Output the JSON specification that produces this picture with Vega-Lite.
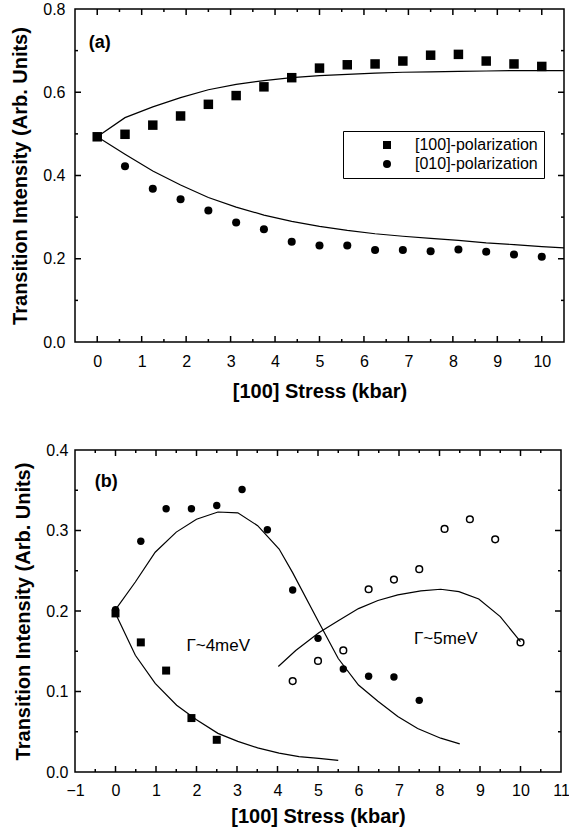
{
  "$schema": "https://vega.github.io/schema/vega-lite/v6.json",
  "padding": {"left": 10, "top": 0, "right": 0, "bottom": 0},
  "background": "white",
  "columns": 1,
  "align": "none",
  "spacing": 39,
  "resolve": {"scale": {"shape": "independent", "size": "independent"}, "legend": {"shape": "independent", "size": "independent"}},
  "datasets": {
    "a_fit_up": [
      {"x": 0, "y": 0.493}, {"x": 0.625, "y": 0.539}, {"x": 1.25, "y": 0.565}, {"x": 1.875, "y": 0.587},
      {"x": 2.5, "y": 0.606}, {"x": 3.125, "y": 0.619}, {"x": 3.75, "y": 0.628}, {"x": 4.375, "y": 0.635},
      {"x": 5, "y": 0.64}, {"x": 5.625, "y": 0.643}, {"x": 6.25, "y": 0.646}, {"x": 6.875, "y": 0.648},
      {"x": 7.5, "y": 0.649}, {"x": 8.125, "y": 0.65}, {"x": 8.75, "y": 0.651}, {"x": 9.375, "y": 0.652},
      {"x": 10, "y": 0.652}, {"x": 10.5, "y": 0.652}
    ],
    "a_fit_low": [
      {"x": 0, "y": 0.493}, {"x": 0.625, "y": 0.451}, {"x": 1.25, "y": 0.411}, {"x": 1.875, "y": 0.377},
      {"x": 2.5, "y": 0.347}, {"x": 3.125, "y": 0.324}, {"x": 3.75, "y": 0.305}, {"x": 4.375, "y": 0.29},
      {"x": 5, "y": 0.278}, {"x": 5.625, "y": 0.268}, {"x": 6.25, "y": 0.26}, {"x": 6.875, "y": 0.254},
      {"x": 7.5, "y": 0.249}, {"x": 8.125, "y": 0.244}, {"x": 8.75, "y": 0.238}, {"x": 9.375, "y": 0.234},
      {"x": 10, "y": 0.229}, {"x": 10.5, "y": 0.226}
    ],
    "a_points": [
      {"series": "[100]-polarization", "x": 0, "y": 0.493},
      {"series": "[100]-polarization", "x": 0.625, "y": 0.499},
      {"series": "[100]-polarization", "x": 1.25, "y": 0.521},
      {"series": "[100]-polarization", "x": 1.875, "y": 0.543},
      {"series": "[100]-polarization", "x": 2.5, "y": 0.571},
      {"series": "[100]-polarization", "x": 3.125, "y": 0.592},
      {"series": "[100]-polarization", "x": 3.75, "y": 0.613},
      {"series": "[100]-polarization", "x": 4.375, "y": 0.635},
      {"series": "[100]-polarization", "x": 5, "y": 0.658},
      {"series": "[100]-polarization", "x": 5.625, "y": 0.666},
      {"series": "[100]-polarization", "x": 6.25, "y": 0.668},
      {"series": "[100]-polarization", "x": 6.875, "y": 0.675},
      {"series": "[100]-polarization", "x": 7.5, "y": 0.689},
      {"series": "[100]-polarization", "x": 8.125, "y": 0.691},
      {"series": "[100]-polarization", "x": 8.75, "y": 0.675},
      {"series": "[100]-polarization", "x": 9.375, "y": 0.668},
      {"series": "[100]-polarization", "x": 10, "y": 0.662},
      {"series": "[010]-polarization", "x": 0, "y": 0.493},
      {"series": "[010]-polarization", "x": 0.625, "y": 0.422},
      {"series": "[010]-polarization", "x": 1.25, "y": 0.368},
      {"series": "[010]-polarization", "x": 1.875, "y": 0.343},
      {"series": "[010]-polarization", "x": 2.5, "y": 0.316},
      {"series": "[010]-polarization", "x": 3.125, "y": 0.287},
      {"series": "[010]-polarization", "x": 3.75, "y": 0.271},
      {"series": "[010]-polarization", "x": 4.375, "y": 0.241},
      {"series": "[010]-polarization", "x": 5, "y": 0.232},
      {"series": "[010]-polarization", "x": 5.625, "y": 0.232},
      {"series": "[010]-polarization", "x": 6.25, "y": 0.221},
      {"series": "[010]-polarization", "x": 6.875, "y": 0.221},
      {"series": "[010]-polarization", "x": 7.5, "y": 0.218},
      {"series": "[010]-polarization", "x": 8.125, "y": 0.222},
      {"series": "[010]-polarization", "x": 8.75, "y": 0.217},
      {"series": "[010]-polarization", "x": 9.375, "y": 0.21},
      {"series": "[010]-polarization", "x": 10, "y": 0.205}
    ],
    "a_label": [{"x": -0.19, "y": 0.718, "text": "(a)"}],
    "a_xticks": [
      {"x": 0, "kind": "major"}, {"x": 1, "kind": "major"}, {"x": 2, "kind": "major"}, {"x": 3, "kind": "major"},
      {"x": 4, "kind": "major"}, {"x": 5, "kind": "major"}, {"x": 6, "kind": "major"}, {"x": 7, "kind": "major"},
      {"x": 8, "kind": "major"}, {"x": 9, "kind": "major"}, {"x": 10, "kind": "major"},
      {"x": 0.5, "kind": "minor"}, {"x": 1.5, "kind": "minor"}, {"x": 2.5, "kind": "minor"}, {"x": 3.5, "kind": "minor"},
      {"x": 4.5, "kind": "minor"}, {"x": 5.5, "kind": "minor"}, {"x": 6.5, "kind": "minor"}, {"x": 7.5, "kind": "minor"},
      {"x": 8.5, "kind": "minor"}, {"x": 9.5, "kind": "minor"}
    ],
    "a_yticks": [
      {"y": 0.2, "kind": "major"}, {"y": 0.4, "kind": "major"}, {"y": 0.6, "kind": "major"},
      {"y": 0.1, "kind": "minor"}, {"y": 0.3, "kind": "minor"}, {"y": 0.5, "kind": "minor"}, {"y": 0.7, "kind": "minor"}
    ],
    "b_fits": [
      {"curve": "g4_rise", "x": 0, "y": 0.2017}, {"curve": "g4_rise", "x": 0.49, "y": 0.236},
      {"curve": "g4_rise", "x": 0.98, "y": 0.273}, {"curve": "g4_rise", "x": 1.5, "y": 0.298},
      {"curve": "g4_rise", "x": 2.0, "y": 0.314}, {"curve": "g4_rise", "x": 2.53, "y": 0.323},
      {"curve": "g4_rise", "x": 3.02, "y": 0.322}, {"curve": "g4_rise", "x": 3.51, "y": 0.306},
      {"curve": "g4_rise", "x": 4.04, "y": 0.277}, {"curve": "g4_rise", "x": 4.37, "y": 0.248},
      {"curve": "g4_rise", "x": 5.02, "y": 0.186}, {"curve": "g4_rise", "x": 5.5, "y": 0.141},
      {"curve": "g4_rise", "x": 6.0, "y": 0.108}, {"curve": "g4_rise", "x": 6.48, "y": 0.088},
      {"curve": "g4_rise", "x": 6.97, "y": 0.069}, {"curve": "g4_rise", "x": 7.46, "y": 0.054},
      {"curve": "g4_rise", "x": 8.03, "y": 0.042}, {"curve": "g4_rise", "x": 8.5, "y": 0.035},
      {"curve": "g4_fall", "x": 0, "y": 0.197}, {"curve": "g4_fall", "x": 0.49, "y": 0.145},
      {"curve": "g4_fall", "x": 0.98, "y": 0.11}, {"curve": "g4_fall", "x": 1.51, "y": 0.083},
      {"curve": "g4_fall", "x": 2.0, "y": 0.065}, {"curve": "g4_fall", "x": 2.53, "y": 0.048},
      {"curve": "g4_fall", "x": 3.02, "y": 0.038}, {"curve": "g4_fall", "x": 3.51, "y": 0.03},
      {"curve": "g4_fall", "x": 4.04, "y": 0.0235}, {"curve": "g4_fall", "x": 4.53, "y": 0.019},
      {"curve": "g4_fall", "x": 5.02, "y": 0.017}, {"curve": "g4_fall", "x": 5.5, "y": 0.0144},
      {"curve": "g5", "x": 4.02, "y": 0.131}, {"curve": "g5", "x": 4.45, "y": 0.151},
      {"curve": "g5", "x": 5.02, "y": 0.173}, {"curve": "g5", "x": 5.5, "y": 0.188},
      {"curve": "g5", "x": 6.0, "y": 0.203}, {"curve": "g5", "x": 6.48, "y": 0.213},
      {"curve": "g5", "x": 6.97, "y": 0.22}, {"curve": "g5", "x": 7.54, "y": 0.225},
      {"curve": "g5", "x": 8.03, "y": 0.227}, {"curve": "g5", "x": 8.48, "y": 0.224},
      {"curve": "g5", "x": 8.97, "y": 0.215}, {"curve": "g5", "x": 9.5, "y": 0.193},
      {"curve": "g5", "x": 10.0, "y": 0.162}
    ],
    "b_filled": [
      {"series": "circle", "x": 0, "y": 0.2017}, {"series": "circle", "x": 0.625, "y": 0.2866},
      {"series": "circle", "x": 1.25, "y": 0.327}, {"series": "circle", "x": 1.875, "y": 0.327},
      {"series": "circle", "x": 2.5, "y": 0.331}, {"series": "circle", "x": 3.125, "y": 0.351},
      {"series": "circle", "x": 3.75, "y": 0.301}, {"series": "circle", "x": 4.375, "y": 0.226},
      {"series": "circle", "x": 5, "y": 0.166}, {"series": "circle", "x": 5.625, "y": 0.128},
      {"series": "circle", "x": 6.25, "y": 0.119}, {"series": "circle", "x": 6.875, "y": 0.118},
      {"series": "circle", "x": 7.5, "y": 0.089},
      {"series": "square", "x": 0, "y": 0.197}, {"series": "square", "x": 0.625, "y": 0.161},
      {"series": "square", "x": 1.25, "y": 0.126}, {"series": "square", "x": 1.875, "y": 0.067},
      {"series": "square", "x": 2.5, "y": 0.04}
    ],
    "b_open": [
      {"x": 4.375, "y": 0.113}, {"x": 5, "y": 0.138}, {"x": 5.625, "y": 0.151},
      {"x": 6.25, "y": 0.227}, {"x": 6.875, "y": 0.239}, {"x": 7.5, "y": 0.252},
      {"x": 8.125, "y": 0.302}, {"x": 8.75, "y": 0.314}, {"x": 9.375, "y": 0.289},
      {"x": 10, "y": 0.161}
    ],
    "b_panel_label": [{"x": -0.51, "y": 0.36, "text": "(b)"}],
    "b_gamma": [
      {"x": 1.75, "y": 0.157, "text": "Γ~4meV"},
      {"x": 7.37, "y": 0.165, "text": "Γ~5meV"}
    ],
    "b_xticks": [
      {"x": 0, "kind": "major"}, {"x": 1, "kind": "major"}, {"x": 2, "kind": "major"}, {"x": 3, "kind": "major"},
      {"x": 4, "kind": "major"}, {"x": 5, "kind": "major"}, {"x": 6, "kind": "major"}, {"x": 7, "kind": "major"},
      {"x": 8, "kind": "major"}, {"x": 9, "kind": "major"}, {"x": 10, "kind": "major"},
      {"x": -0.5, "kind": "minor"}, {"x": 0.5, "kind": "minor"}, {"x": 1.5, "kind": "minor"}, {"x": 2.5, "kind": "minor"},
      {"x": 3.5, "kind": "minor"}, {"x": 4.5, "kind": "minor"}, {"x": 5.5, "kind": "minor"}, {"x": 6.5, "kind": "minor"},
      {"x": 7.5, "kind": "minor"}, {"x": 8.5, "kind": "minor"}, {"x": 9.5, "kind": "minor"}, {"x": 10.5, "kind": "minor"}
    ],
    "b_yticks": [
      {"y": 0.1, "kind": "major"}, {"y": 0.2, "kind": "major"}, {"y": 0.3, "kind": "major"},
      {"y": 0.05, "kind": "minor"}, {"y": 0.15, "kind": "minor"}, {"y": 0.25, "kind": "minor"}, {"y": 0.35, "kind": "minor"}
    ]
  },
  "concat": [
    {
      "width": 489,
      "height": 333,
      "resolve": {"scale": {"x": "shared", "y": "shared", "shape": "shared"}, "axis": {"x": "independent", "y": "independent"}},
      "layer": [
        {
          "data": {"name": "a_fit_up"},
          "mark": {"type": "line", "color": "black", "strokeWidth": 1.2, "clip": true},
          "encoding": {
            "x": {"field": "x", "type": "quantitative", "scale": {"domain": [-0.5, 10.5], "nice": false, "zero": false},
              "axis": {"orient": "bottom", "values": [0,1,2,3,4,5,6,7,8,9,10], "ticks": false, "labelPadding": 11, "labelFlush": false, "title": "[100] Stress (kbar)", "titlePadding": 12}},
            "y": {"field": "y", "type": "quantitative", "scale": {"domain": [0, 0.8], "nice": false, "zero": false},
              "axis": {"orient": "left", "values": [0, 0.2, 0.4, 0.6, 0.8], "format": ".1f", "ticks": false, "labelPadding": 10, "title": "Transition Intensity (Arb. Units)", "titlePadding": 12}}
          }
        },
        {
          "data": {"name": "a_fit_low"},
          "mark": {"type": "line", "color": "black", "strokeWidth": 1.2, "clip": true},
          "encoding": {
            "x": {"field": "x", "type": "quantitative", "axis": null},
            "y": {"field": "y", "type": "quantitative", "axis": null}
          }
        },
        {
          "data": {"name": "a_points"},
          "transform": [{"filter": "datum.series === '[100]-polarization'"}],
          "mark": {"type": "point", "filled": true, "color": "black", "opacity": 1, "size": 90},
          "encoding": {
            "x": {"field": "x", "type": "quantitative", "axis": null},
            "y": {"field": "y", "type": "quantitative", "axis": null},
            "shape": {"field": "series", "type": "nominal",
              "scale": {"domain": ["[100]-polarization", "[010]-polarization"], "range": ["square", "circle"]},
              "legend": {"title": " ", "titleOrient": "left", "titlePadding": 30, "orient": "none", "legendX": 268, "legendY": 122,
                "strokeColor": "black", "padding": 6, "symbolOffset": 0, "labelOffset": 20,
                "labelFontSize": 16, "labelColor": "black", "symbolSize": 64, "symbolFillColor": "black", "symbolStrokeColor": "black", "symbolStrokeWidth": 0, "rowPadding": 3}}
          }
        },
        {
          "data": {"name": "a_points"},
          "transform": [{"filter": "datum.series === '[010]-polarization'"}],
          "mark": {"type": "point", "filled": true, "color": "black", "opacity": 1, "size": 65},
          "encoding": {
            "x": {"field": "x", "type": "quantitative", "axis": null},
            "y": {"field": "y", "type": "quantitative", "axis": null},
            "shape": {"field": "series", "type": "nominal"}
          }
        },
        {
          "data": {"name": "a_label"},
          "mark": {"type": "text", "align": "left", "baseline": "middle", "fontSize": 18, "fontWeight": "bold", "color": "black"},
          "encoding": {
            "x": {"field": "x", "type": "quantitative", "axis": null},
            "y": {"field": "y", "type": "quantitative", "axis": null},
            "text": {"field": "text"}
          }
        },
        {
          "data": {"name": "a_xticks"},
          "layer": [
            {"transform": [{"filter": "datum.kind === 'major'"}], "mark": {"type": "rule", "color": "black", "strokeWidth": 1.5},
             "encoding": {"x": {"field": "x", "type": "quantitative", "axis": null}, "y": {"datum": 0, "type": "quantitative", "axis": null}, "y2": {"datum": 0.0144}}},
            {"transform": [{"filter": "datum.kind === 'minor'"}], "mark": {"type": "rule", "color": "black", "strokeWidth": 1.5},
             "encoding": {"x": {"field": "x", "type": "quantitative", "axis": null}, "y": {"datum": 0, "type": "quantitative", "axis": null}, "y2": {"datum": 0.0072}}},
            {"transform": [{"filter": "datum.kind === 'major'"}], "mark": {"type": "rule", "color": "black", "strokeWidth": 1.5},
             "encoding": {"x": {"field": "x", "type": "quantitative", "axis": null}, "y": {"datum": 0.8, "type": "quantitative", "axis": null}, "y2": {"datum": 0.7856}}},
            {"transform": [{"filter": "datum.kind === 'minor'"}], "mark": {"type": "rule", "color": "black", "strokeWidth": 1.5},
             "encoding": {"x": {"field": "x", "type": "quantitative", "axis": null}, "y": {"datum": 0.8, "type": "quantitative", "axis": null}, "y2": {"datum": 0.7928}}}
          ]
        },
        {
          "data": {"name": "a_yticks"},
          "layer": [
            {"transform": [{"filter": "datum.kind === 'major'"}], "mark": {"type": "rule", "color": "black", "strokeWidth": 1.5},
             "encoding": {"y": {"field": "y", "type": "quantitative", "axis": null}, "x": {"datum": -0.5, "type": "quantitative", "axis": null}, "x2": {"datum": -0.365}}},
            {"transform": [{"filter": "datum.kind === 'minor'"}], "mark": {"type": "rule", "color": "black", "strokeWidth": 1.5},
             "encoding": {"y": {"field": "y", "type": "quantitative", "axis": null}, "x": {"datum": -0.5, "type": "quantitative", "axis": null}, "x2": {"datum": -0.4325}}},
            {"transform": [{"filter": "datum.kind === 'major'"}], "mark": {"type": "rule", "color": "black", "strokeWidth": 1.5},
             "encoding": {"y": {"field": "y", "type": "quantitative", "axis": null}, "x": {"datum": 10.5, "type": "quantitative", "axis": null}, "x2": {"datum": 10.365}}},
            {"transform": [{"filter": "datum.kind === 'minor'"}], "mark": {"type": "rule", "color": "black", "strokeWidth": 1.5},
             "encoding": {"y": {"field": "y", "type": "quantitative", "axis": null}, "x": {"datum": 10.5, "type": "quantitative", "axis": null}, "x2": {"datum": 10.4325}}}
          ]
        }
      ]
    },
    {
      "width": 486,
      "height": 322,
      "resolve": {"scale": {"x": "shared", "y": "shared"}, "axis": {"x": "independent", "y": "independent"}},
      "layer": [
        {
          "data": {"name": "b_fits"},
          "mark": {"type": "line", "color": "black", "strokeWidth": 1.2},
          "encoding": {
            "x": {"field": "x", "type": "quantitative", "scale": {"domain": [-1, 11], "nice": false, "zero": false},
              "axis": {"orient": "bottom", "values": [-1,0,1,2,3,4,5,6,7,8,9,10,11], "ticks": false, "labelPadding": 10, "labelFlush": false, "title": "[100] Stress (kbar)", "titlePadding": 8}},
            "y": {"field": "y", "type": "quantitative", "scale": {"domain": [0, 0.4], "nice": false, "zero": false},
              "axis": {"orient": "left", "values": [0, 0.1, 0.2, 0.3, 0.4], "format": ".1f", "ticks": false, "labelPadding": 7, "title": "Transition Intensity (Arb. Units)", "titlePadding": 12}},
            "detail": {"field": "curve", "type": "nominal"}
          }
        },
        {
          "data": {"name": "b_filled"},
          "mark": {"type": "point", "filled": true, "color": "black", "opacity": 1},
          "encoding": {
            "x": {"field": "x", "type": "quantitative", "axis": null},
            "y": {"field": "y", "type": "quantitative", "axis": null},
            "shape": {"field": "series", "type": "nominal", "scale": {"domain": ["circle", "square"], "range": ["circle", "square"]}, "legend": null},
            "size": {"field": "series", "type": "nominal", "scale": {"domain": ["circle", "square"], "range": [55, 64]}, "legend": null}
          }
        },
        {
          "data": {"name": "b_open"},
          "mark": {"type": "point", "shape": "circle", "filled": false, "color": "black", "strokeWidth": 1.5, "size": 45, "opacity": 1},
          "encoding": {
            "x": {"field": "x", "type": "quantitative", "axis": null},
            "y": {"field": "y", "type": "quantitative", "axis": null}
          }
        },
        {
          "data": {"name": "b_panel_label"},
          "mark": {"type": "text", "align": "left", "baseline": "middle", "fontSize": 18, "fontWeight": "bold", "color": "black"},
          "encoding": {
            "x": {"field": "x", "type": "quantitative", "axis": null},
            "y": {"field": "y", "type": "quantitative", "axis": null},
            "text": {"field": "text"}
          }
        },
        {
          "data": {"name": "b_gamma"},
          "mark": {"type": "text", "align": "left", "baseline": "middle", "fontSize": 17, "color": "black"},
          "encoding": {
            "x": {"field": "x", "type": "quantitative", "axis": null},
            "y": {"field": "y", "type": "quantitative", "axis": null},
            "text": {"field": "text"}
          }
        },
        {
          "data": {"name": "b_xticks"},
          "layer": [
            {"transform": [{"filter": "datum.kind === 'major'"}], "mark": {"type": "rule", "color": "black", "strokeWidth": 1.5},
             "encoding": {"x": {"field": "x", "type": "quantitative", "axis": null}, "y": {"datum": 0, "type": "quantitative", "axis": null}, "y2": {"datum": 0.00745}}},
            {"transform": [{"filter": "datum.kind === 'minor'"}], "mark": {"type": "rule", "color": "black", "strokeWidth": 1.5},
             "encoding": {"x": {"field": "x", "type": "quantitative", "axis": null}, "y": {"datum": 0, "type": "quantitative", "axis": null}, "y2": {"datum": 0.00373}}},
            {"transform": [{"filter": "datum.kind === 'major'"}], "mark": {"type": "rule", "color": "black", "strokeWidth": 1.5},
             "encoding": {"x": {"field": "x", "type": "quantitative", "axis": null}, "y": {"datum": 0.4, "type": "quantitative", "axis": null}, "y2": {"datum": 0.39255}}},
            {"transform": [{"filter": "datum.kind === 'minor'"}], "mark": {"type": "rule", "color": "black", "strokeWidth": 1.5},
             "encoding": {"x": {"field": "x", "type": "quantitative", "axis": null}, "y": {"datum": 0.4, "type": "quantitative", "axis": null}, "y2": {"datum": 0.39627}}}
          ]
        },
        {
          "data": {"name": "b_yticks"},
          "layer": [
            {"transform": [{"filter": "datum.kind === 'major'"}], "mark": {"type": "rule", "color": "black", "strokeWidth": 1.5},
             "encoding": {"y": {"field": "y", "type": "quantitative", "axis": null}, "x": {"datum": -1, "type": "quantitative", "axis": null}, "x2": {"datum": -0.852}}},
            {"transform": [{"filter": "datum.kind === 'minor'"}], "mark": {"type": "rule", "color": "black", "strokeWidth": 1.5},
             "encoding": {"y": {"field": "y", "type": "quantitative", "axis": null}, "x": {"datum": -1, "type": "quantitative", "axis": null}, "x2": {"datum": -0.926}}},
            {"transform": [{"filter": "datum.kind === 'major'"}], "mark": {"type": "rule", "color": "black", "strokeWidth": 1.5},
             "encoding": {"y": {"field": "y", "type": "quantitative", "axis": null}, "x": {"datum": 11, "type": "quantitative", "axis": null}, "x2": {"datum": 10.852}}},
            {"transform": [{"filter": "datum.kind === 'minor'"}], "mark": {"type": "rule", "color": "black", "strokeWidth": 1.5},
             "encoding": {"y": {"field": "y", "type": "quantitative", "axis": null}, "x": {"datum": 11, "type": "quantitative", "axis": null}, "x2": {"datum": 10.926}}}
          ]
        }
      ]
    }
  ],
  "config": {
    "font": "Liberation Sans",
    "view": {"stroke": "black", "strokeWidth": 1.5},
    "axis": {
      "domain": false, "grid": false,
      "labelColor": "black", "labelFontSize": 16, "labelFont": "Liberation Sans",
      "titleColor": "black", "titleFontSize": 20, "titleFontWeight": "bold", "titleFont": "Liberation Sans"
    },
    "legend": {"labelFont": "Liberation Sans"}
  }
}
